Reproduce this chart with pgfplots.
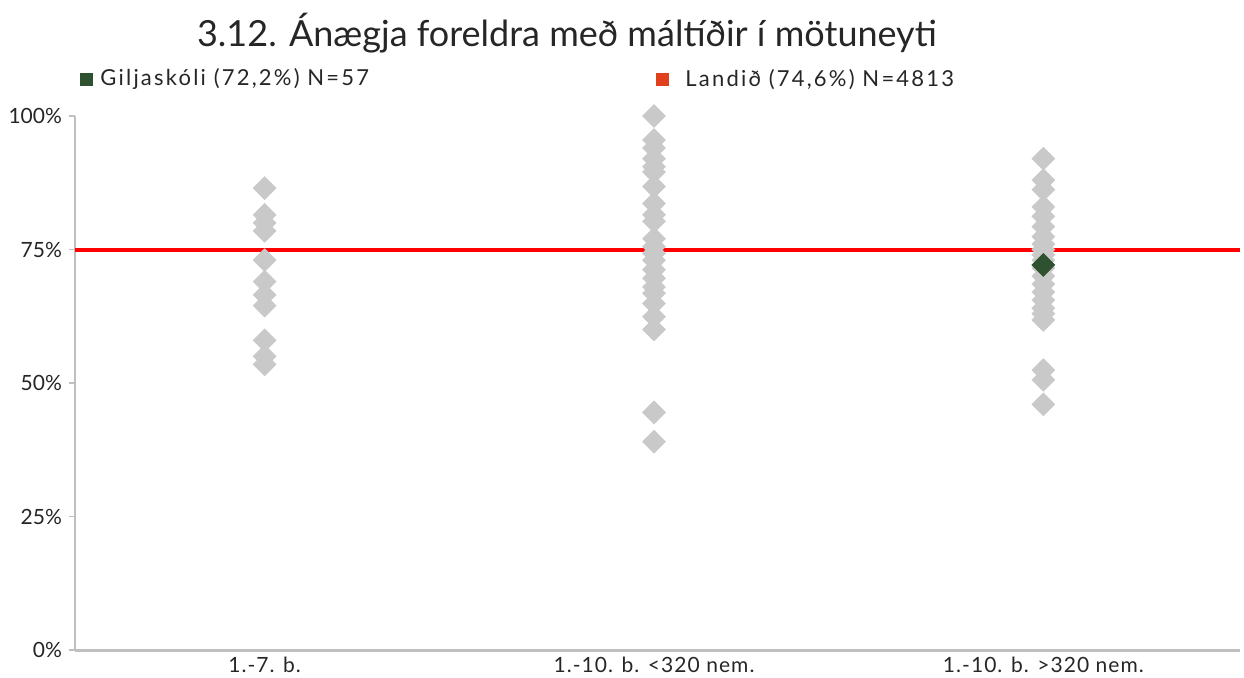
\documentclass[border=0pt]{standalone}
\usepackage{fontspec}
\setmainfont{Lato}
\newfontfamily\lsfont{Lato}[LetterSpace=10]
\newfontfamily\xsfont{Lato}[LetterSpace=5]
\usepackage{pgfplots}
\pgfplotsset{compat=1.18}
\definecolor{gr}{HTML}{C9C9C9}
\definecolor{dg}{HTML}{2E5230}
\definecolor{lr}{HTML}{E0401C}
\definecolor{axc}{HTML}{BFBFBF}
\begin{document}
\begin{tikzpicture}
\useasboundingbox (-37.5pt,-13.5pt) rectangle (584.5pt,325pt);
\begin{axis}[at={(0,0)}, anchor=south west, scale only axis,
  width=582.5pt, height=267pt,
  xmin=-0.487, xmax=2.505, ymin=0, ymax=100,
  axis x line*=bottom, axis y line*=left,
  x axis line style={axc, line width=1.5pt},
  y axis line style={axc, line width=1pt},
  xtick={0,1,2},
  xticklabels={1.-7. b., 1.-10. b. <320 nem., 1.-10. b. >320 nem.},
  ytick={0,25,50,75,100},
  yticklabel={\pgfmathprintnumber{\tick}\%},
  /pgf/number format/assume math mode=true,
  x tick style={draw=none},
  y tick style={axc, line width=0.6pt},
  tick align=outside, major tick length=3pt,
  yticklabel style={font=\fontsize{10.5}{12}\selectfont, text=black!85},
  xticklabel style={font=\xsfont\fontsize{10.5}{12}\selectfont, text=black!85, yshift=3pt},
  clip=false,
]
\addplot[only marks, mark=square*, mark size=4pt, color=gr, mark options={rotate=45, draw=gr, fill=gr}] coordinates {
(0,86.5) (0,81.5) (0,80) (0,78.5) (0,73) (0,69) (0,66.5) (0,64.5) (0,58) (0,55) (0,53.5)
(1,100) (1,95.5) (1,94) (1,92) (1,90.5) (1,89.5) (1,86.8) (1,83.6) (1,81.5) (1,80.3) (1,77) (1,75.5) (1,74.3) (1,73) (1,71.2) (1,69.6) (1,68) (1,66.8) (1,64.9) (1,62.4) (1,60) (1,44.5) (1,39)
(2,92) (2,88) (2,86.2) (2,83) (2,81.2) (2,79.3) (2,77.4) (2,76) (2,75) (2,74) (2,73) (2,71.5) (2,70) (2,68.5) (2,67) (2,65.5) (2,64) (2,63) (2,61.8) (2,52.4) (2,50.6) (2,46)
};
\addplot[red, line width=2pt] coordinates {(-0.487,75) (2.505,75)};
\addplot[only marks, mark=square*, mark size=4pt, color=dg, mark options={rotate=45, draw=dg, fill=dg}] coordinates {(2,72.1)};
\node[font=\fontsize{18}{21}\selectfont, text=black!85] at (rel axis cs:0.4223,1.155) {3.12. Ánægja foreldra með máltíðir í mötuneyti};
\node[fill=dg, minimum size=6.5pt, inner sep=0pt] at (rel axis cs:0.0099,1.069) {};
\node[anchor=west, inner sep=0pt, font=\lsfont\fontsize{11}{13}\selectfont, text=black!85] at (rel axis cs:0.0215,1.069) {Giljaskóli (72,2\%) N=57};
\node[fill=lr, minimum size=6.5pt, inner sep=0pt] at (rel axis cs:0.504,1.069) {};
\node[anchor=west, inner sep=0pt, font=\lsfont\fontsize{11}{13}\selectfont, text=black!85] at (rel axis cs:0.5236,1.069) {Landið (74,6\%) N=4813};
\end{axis}
\end{tikzpicture}
\end{document}
